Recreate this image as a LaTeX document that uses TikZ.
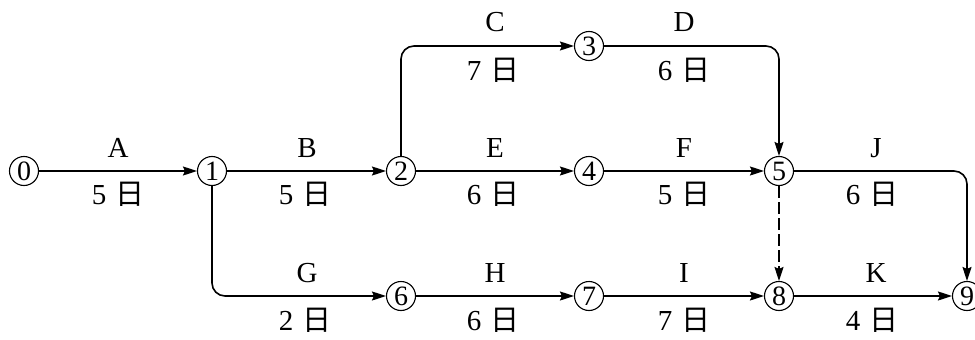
\documentclass[tikz,border=0pt]{standalone}
\usepackage{fontspec}
\setmainfont{Liberation Serif}
\newfontfamily\cjk{Noto Sans CJK SC}
\usetikzlibrary{arrows.meta}
\newcommand{\ri}{{\cjk 日}}
\begin{document}
\begin{tikzpicture}[x=1pt,y=-1pt,
  event/.style={circle,draw,line width=1.1pt,minimum size=29pt,inner sep=0pt,
    font=\fontsize{28}{28}\selectfont},
  act/.style={line width=1.6pt,rounded corners=13pt,
    -{Stealth[length=14pt,width=9pt,inset=2pt]}},
  dummy/.style={act,dash pattern=on 12pt off 4pt},
  lbl/.style={inner sep=0pt,font=\fontsize{29}{29}\selectfont}]
\useasboundingbox (0,0) rectangle (975,340);
\fill[white] (0,0) rectangle (975,340);

% events
\node[event] (n0) at (24,171) {0};
\node[event] (n1) at (212,171) {1};
\node[event] (n2) at (401,171) {2};
\node[event] (n3) at (589,46) {3};
\node[event] (n4) at (589,171) {4};
\node[event] (n5) at (779,171) {5};
\node[event] (n6) at (401,296) {6};
\node[event] (n7) at (589,296) {7};
\node[event] (n8) at (779,296) {8};
\node[event] (n9) at (967,296) {9};

% activities
\draw[act] (n0) -- (n1);
\draw[act] (n1) -- (n2);
\draw[act] (n2) |- (n3);
\draw[act] (n2) -- (n4);
\draw[act] (n3) -| (n5);
\draw[act] (n4) -- (n5);
\draw[act] (n5) -| (n9);
\draw[act] (n1) |- (n6);
\draw[act] (n6) -- (n7);
\draw[act] (n7) -- (n8);
\draw[act] (n8) -- (n9);
\draw[dummy] (n5) -- (n8);

% names and durations
\node[lbl] (tA) at (118,148) {A};  \node[lbl] (dA) at (118,194) {5\hspace{0.3em}\ri};
\node[lbl] (tB) at (307,148) {B};  \node[lbl] (dB) at (305,194) {5\hspace{0.3em}\ri};
\node[lbl] (tC) at (495,22) {C};   \node[lbl] (dC) at (493,70) {7\hspace{0.3em}\ri};
\node[lbl] (tE) at (495,148) {E};  \node[lbl] (dE) at (493,194) {6\hspace{0.3em}\ri};
\node[lbl] (tD) at (684,22) {D};   \node[lbl] (dD) at (684,70) {6\hspace{0.3em}\ri};
\node[lbl] (tF) at (684,148) {F};  \node[lbl] (dF) at (684,194) {5\hspace{0.3em}\ri};
\node[lbl] (tJ) at (876,148) {J};  \node[lbl] (dJ) at (872,194) {6\hspace{0.3em}\ri};
\node[lbl] (tG) at (307,273) {G};  \node[lbl] (dG) at (305,320) {2\hspace{0.3em}\ri};
\node[lbl] (tH) at (495,273) {H};  \node[lbl] (dH) at (493,320) {6\hspace{0.3em}\ri};
\node[lbl] (tI) at (684,273) {I};  \node[lbl] (dI) at (684,320) {7\hspace{0.3em}\ri};
\node[lbl] (tK) at (876,273) {K};  \node[lbl] (dK) at (872,320) {4\hspace{0.3em}\ri};
\end{tikzpicture}
\end{document}
